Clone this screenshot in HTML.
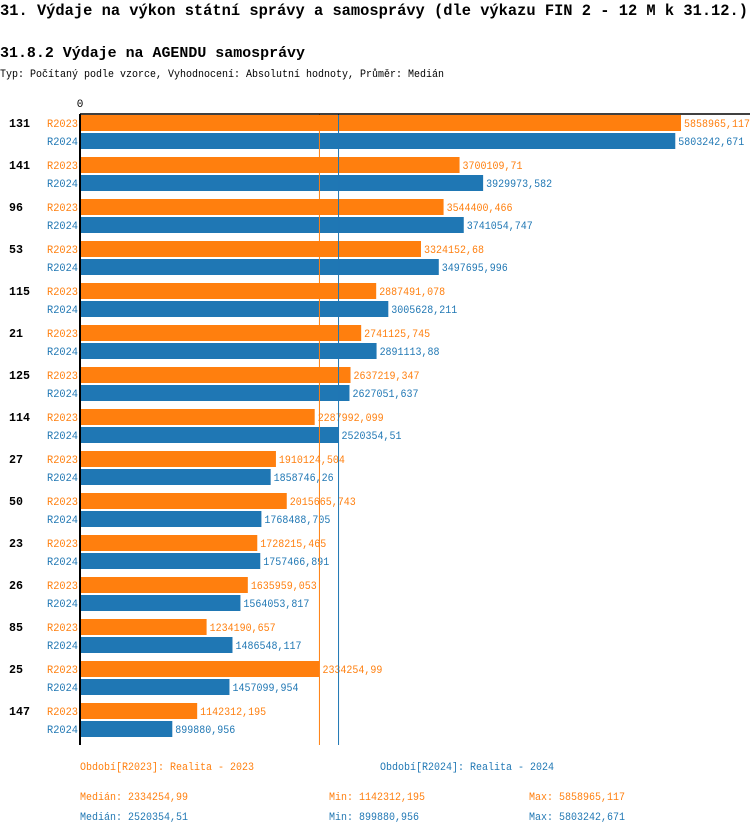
<!DOCTYPE html>
<html><head><meta charset="utf-8"><style>
body{margin:0;background:#fff;width:750px;height:834px;overflow:hidden;font-family:"Liberation Mono",monospace}
svg text{font-family:"Liberation Mono",monospace}
</style></head><body>
<svg id="c" width="750" height="834">
<text x="0" y="15" font-size="16" font-weight="bold" textLength="748" lengthAdjust="spacingAndGlyphs">31. Výdaje na výkon státní správy a samosprávy (dle výkazu FIN 2 - 12 M k 31.12.)</text>
<text x="0" y="57" font-size="15" font-weight="bold" textLength="305" lengthAdjust="spacingAndGlyphs">31.8.2 Výdaje na AGENDU samosprávy</text>
<text x="0" y="77" font-size="11" textLength="444" lengthAdjust="spacingAndGlyphs">Typ: Počítaný podle vzorce, Vyhodnocení: Absolutní hodnoty, Průměr: Medián</text>
<text x="80" y="107" font-size="11" text-anchor="middle">0</text>
<g id="bars"></g>
<line x1="80" y1="114" x2="750" y2="114" stroke="#000" stroke-width="1.5"/>
<line x1="80" y1="114" x2="80" y2="745" stroke="#000" stroke-width="2"/>
<g font-size="11" class="cw">
<text x="80" y="770" fill="#ff7f0e">Období[R2023]: Realita - 2023</text>
<text x="380" y="770" fill="#1f77b4">Období[R2024]: Realita - 2024</text>
<text x="80" y="800" fill="#ff7f0e">Medián: 2334254,99</text>
<text x="329" y="800" fill="#ff7f0e">Min: 1142312,195</text>
<text x="529" y="800" fill="#ff7f0e">Max: 5858965,117</text>
<text x="80" y="820" fill="#1f77b4">Medián: 2520354,51</text>
<text x="329" y="820" fill="#1f77b4">Min: 899880,956</text>
<text x="529" y="820" fill="#1f77b4">Max: 5803242,671</text>
</g>
</svg>
<script>
const categories=["131","141","96","53","115","21","125","114","27","50","23","26","85","25","147"];
const values2023=[5858965.117,3700109.71,3544400.466,3324152.68,2887491.078,2741125.745,2637219.347,2287992.099,1910124.504,2015665.743,1728215.465,1635959.053,1234190.657,2334254.99,1142312.195];
const values2024=[5803242.671,3929973.582,3741054.747,3497695.996,3005628.211,2891113.88,2627051.637,2520354.51,1858746.26,1768488.705,1757466.891,1564053.817,1486548.117,1457099.954,899880.956];
const median2023=2334254.99, median2024=2520354.51;
const NS="http://www.w3.org/2000/svg";
const g=document.getElementById('bars');
const xs=v=>80+v*601/5858965.117;
const fmt=v=>String(v).replace('.',',');
function el(t,a){const e=document.createElementNS(NS,t);for(const k in a)e.setAttribute(k,a[k]);g.appendChild(e);return e;}
function fit(t,w){t.setAttribute('textLength',t.textContent.length*w);t.setAttribute('lengthAdjust','spacingAndGlyphs');}
categories.forEach((c,i)=>{
  const y0=115+i*42;
  const t=el('text',{x:9,y:y0+12,'font-size':12,'font-weight':'bold'});t.textContent=c;
  
  
  fit(t,7);
  [[values2023[i],'#ff7f0e','R2023',0],[values2024[i],'#1f77b4','R2024',18]].forEach(([v,col,lab,off])=>{
    const y=y0+off;
    const l=el('text',{x:47,y:y+12,'font-size':11,fill:col});l.textContent=lab;
    
    
    fit(l,6.2);
    const r=el('rect',{x:81,y:y,width:Math.max(0,xs(v)-81),height:16,fill:col});
    
    
    const vt=el('text',{x:xs(v)+3,y:y+12,'font-size':11,fill:col});vt.textContent=fmt(v);
    
    
    fit(vt,6);
  });
});
document.querySelectorAll('.cw text').forEach(t=>fit(t,6));
[[median2023,'#ff7f0e','median-line-r2023'],[median2024,'#1f77b4','median-line-r2024']].forEach(([m,col,n])=>{
  const l=el('line',{x1:xs(m),x2:xs(m),y1:114,y2:745,stroke:col,'stroke-width':1});
  
  
});
</script>
</body></html>
